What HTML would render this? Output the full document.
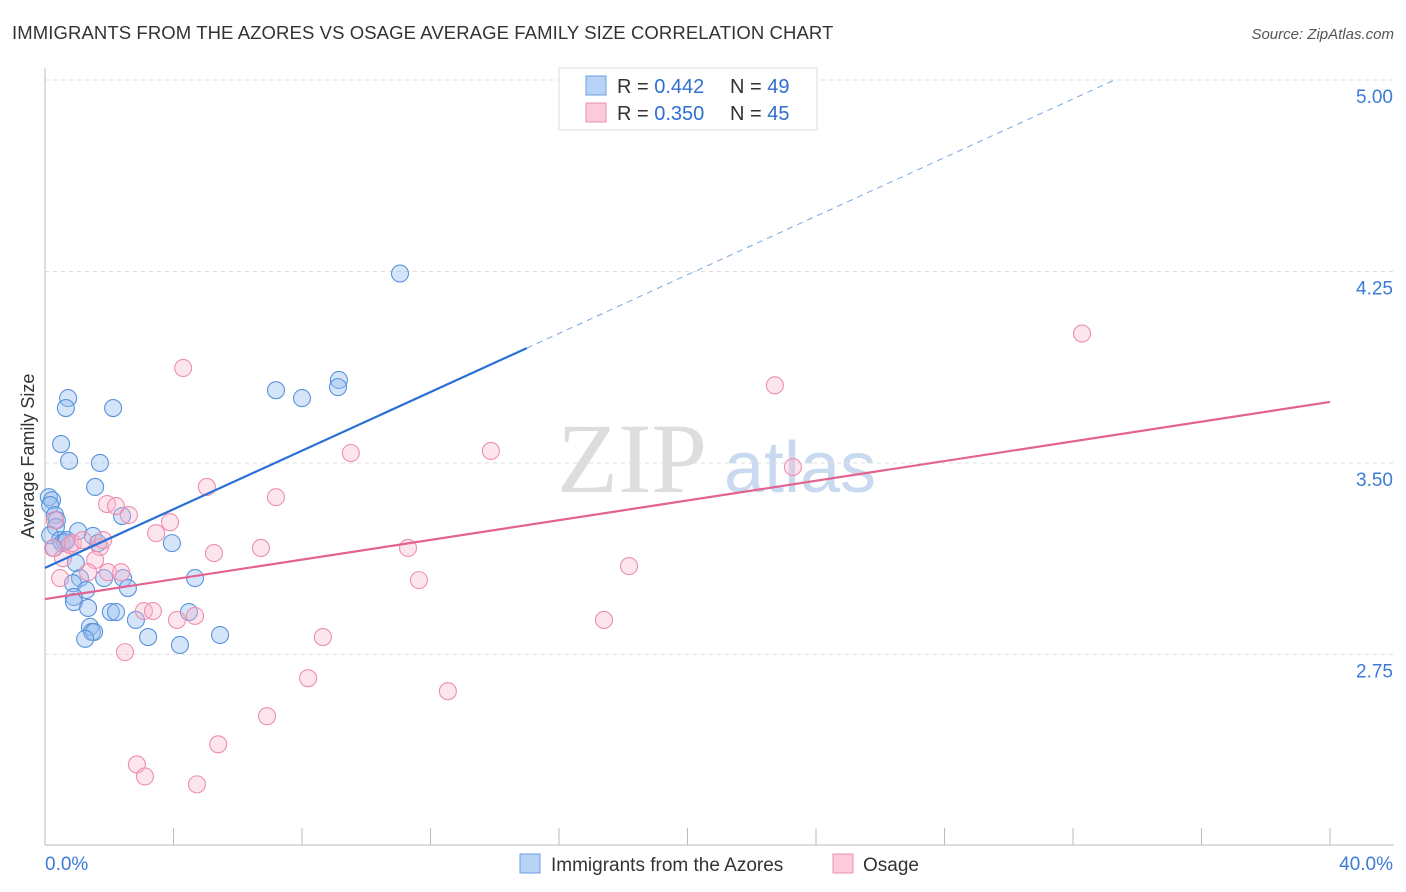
<!DOCTYPE html>
<html><head><meta charset="utf-8"><style>
body{margin:0;background:#fff;font-family:"Liberation Sans",sans-serif}
svg{display:block}
</style></head><body>
<svg id="c" width="1406" height="892" xmlns="http://www.w3.org/2000/svg">
<text x="12" y="39" font-size="18.5" fill="#333" letter-spacing="0.1">IMMIGRANTS FROM THE AZORES VS OSAGE AVERAGE FAMILY SIZE CORRELATION CHART</text>
<text x="1394" y="39" font-size="15" fill="#555" font-style="italic" text-anchor="end">Source: ZipAtlas.com</text>
<g>
<text x="632" y="492" font-size="100" font-family="Liberation Serif,serif" fill="#ddd" text-anchor="middle">ZIP</text>
<text x="800" y="492" font-size="72" fill="#c9daf0" text-anchor="middle">atlas</text>
</g>
<text transform="translate(34,456) rotate(-90)" font-size="18" fill="#333" text-anchor="middle">Average Family Size</text>
<g id="grid"></g><g id="pts"></g><g id="lines"></g>
<g>
<rect x="559" y="68" width="258" height="62" fill="#fff" stroke="#ddd"/>
<rect x="586" y="76" width="20" height="19" fill="#b7d3f5" stroke="#6b9fe0"/>
<rect x="586" y="103" width="20" height="19" fill="#fbcadb" stroke="#ec8fb0"/>
<text x="617" y="93" font-size="20" fill="#333">R = <tspan fill="#2f6fd1">0.442</tspan><tspan x="730">N = </tspan><tspan fill="#2f6fd1">49</tspan></text>
<text x="617" y="120" font-size="20" fill="#333">R = <tspan fill="#2f6fd1">0.350</tspan><tspan x="730">N = </tspan><tspan fill="#2f6fd1">45</tspan></text>
</g>
<g>
<rect x="520" y="854" width="20" height="19" fill="#b7d3f5" stroke="#6b9fe0"/>
<text x="551" y="871" font-size="19" fill="#333">Immigrants from the Azores</text>
<rect x="833" y="854" width="20" height="19" fill="#fbcadb" stroke="#ec8fb0"/>
<text x="863" y="871" font-size="19" fill="#333">Osage</text>
</g>
<text x="45" y="870" font-size="19" fill="#3d7bd6">0.0%</text>
<text x="1393" y="870" font-size="19" fill="#3d7bd6" text-anchor="end">40.0%</text>
</svg>
<script>
const yTicks=[5.00,4.25,3.50,2.75];
const xTickCount=10;
const blueX=[0.12,0.22,0.16,0.31,0.37,0.34,0.16,0.47,0.53,0.62,0.68,0.28,0.72,0.65,0.50,0.75,2.12,1.71,1.56,2.40,1.03,1.49,1.65,3.95,0.96,1.09,1.84,2.43,4.67,0.87,1.28,2.58,0.90,0.90,1.34,2.05,2.21,2.83,4.48,1.40,1.46,1.53,1.25,3.21,4.20,5.45,7.19,8.00,9.15,9.12,11.05];
const blueY=[3.366,3.354,3.335,3.296,3.276,3.249,3.217,3.198,3.186,3.190,3.198,3.167,3.754,3.715,3.574,3.508,3.715,3.500,3.406,3.292,3.233,3.214,3.186,3.186,3.108,3.049,3.049,3.049,3.049,3.029,3.002,3.010,2.975,2.955,2.932,2.916,2.916,2.885,2.916,2.858,2.838,2.838,2.811,2.818,2.787,2.826,3.785,3.754,3.825,3.797,4.242];
const pinkX=[0.25,0.31,0.47,0.56,0.78,0.87,1.18,1.71,1.56,1.93,2.21,2.61,1.96,2.37,1.34,2.49,3.46,3.89,4.30,5.04,5.26,4.11,4.67,3.08,3.36,2.86,3.11,4.73,5.39,6.72,7.19,6.91,8.19,8.65,9.52,11.30,11.64,12.54,13.88,17.40,18.18,22.72,23.28,32.28,1.81];
const pinkY=[3.167,3.276,3.049,3.127,3.179,3.186,3.198,3.171,3.120,3.339,3.331,3.296,3.072,3.072,3.072,2.759,3.225,3.268,3.872,3.406,3.147,2.885,2.901,2.920,2.920,2.319,2.272,2.241,2.398,3.167,3.366,2.508,2.657,2.818,3.539,3.167,3.041,2.606,3.547,2.885,3.096,3.804,3.484,4.007,3.198];
const blueFit=[3.089,0.0574], pinkFit=[2.967,0.0193];
const NS="http://www.w3.org/2000/svg";
const X=v=>45+v/40*1285, Y=v=>80+(5-v)*255.3;
function mk(t,a,p){const e=document.createElementNS(NS,t);for(const k in a)e.setAttribute(k,a[k]);p.appendChild(e);return e;}
const g=document.getElementById('grid');
mk('line',{x1:45,y1:68,x2:45,y2:845,stroke:'#bbb'},g);
mk('line',{x1:45,y1:845,x2:1394,y2:845,stroke:'#bbb'},g);
yTicks.forEach(t=>{
 const l=mk('line',{x1:45,y1:Y(t),x2:1394,y2:Y(t),stroke:'#ddd','stroke-dasharray':'4,4'},g);
 
 
 const tx=mk('text',{x:1393,y:Y(t)+23,'font-size':19,fill:'#3d7bd6','text-anchor':'end'},g);
 tx.textContent=t.toFixed(2);
 
 
});
for(let i=0;i<=xTickCount;i++){
 const x=X(i*40/xTickCount);
 const l=mk('line',{x1:x,y1:828,x2:x,y2:845,stroke:'#bbb'},g);
 
 
}
const p=document.getElementById('pts');
blueX.forEach((v,i)=>{
 const c=mk('circle',{cx:X(v),cy:Y(blueY[i]),r:8.5,fill:'rgba(150,190,240,0.4)',stroke:'#5b93db','stroke-width':1.1},p);
 
 
});
pinkX.forEach((v,i)=>{
 const c=mk('circle',{cx:X(v),cy:Y(pinkY[i]),r:8.5,fill:'rgba(248,180,205,0.35)',stroke:'#ec8fb0','stroke-width':1.1},p);
 
 
});
const L=document.getElementById('lines');
const bEnd=15.0, bDashEnd=(5-blueFit[0])/blueFit[1];
let l1=mk('line',{x1:X(0),y1:Y(blueFit[0]),x2:X(bEnd),y2:Y(blueFit[0]+blueFit[1]*bEnd),stroke:'#2a6fd6','stroke-width':2.2},L);


let l2=mk('line',{x1:X(bEnd),y1:Y(blueFit[0]+blueFit[1]*bEnd),x2:X(bDashEnd),y2:Y(5),stroke:'#7aa6e0','stroke-width':1,'stroke-dasharray':'6,5'},L);


let l3=mk('line',{x1:X(0),y1:Y(pinkFit[0]),x2:X(40),y2:Y(pinkFit[0]+pinkFit[1]*40),stroke:'#e4628f','stroke-width':2.2},L);


</script>
</body></html>
